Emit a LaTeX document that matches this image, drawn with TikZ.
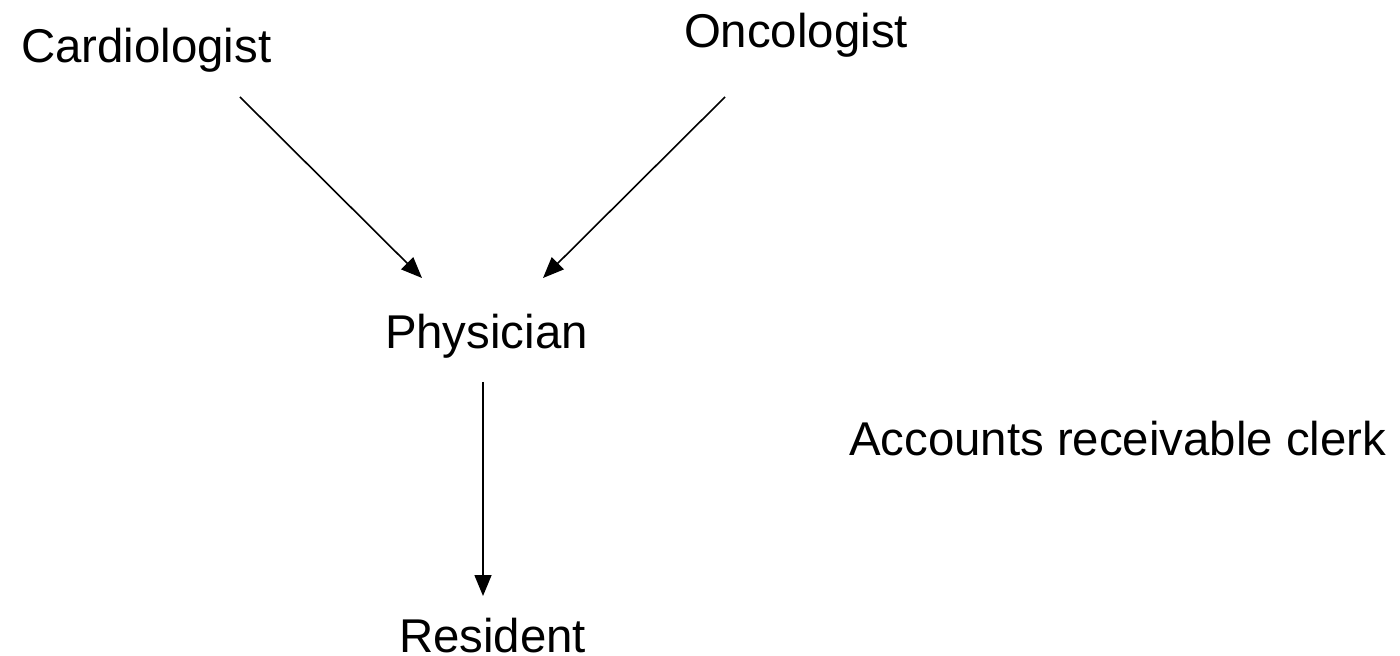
\documentclass[tikz,border=0pt]{standalone}
\usepackage{fontspec}
\setmainfont{Liberation Sans}
\usetikzlibrary{arrows.meta}
\begin{document}
\begin{tikzpicture}[x=0.5pt,y=-0.5pt,
  lbl/.style={anchor=base west,inner sep=0pt,outer sep=0pt,font=\fontsize{23.7pt}{28pt}\selectfont},
  conn/.style={line width=0.8pt,-{Triangle[length=10.5pt,width=8.5pt]}}]
\useasboundingbox (0,0) rectangle (1400,656);
\node[lbl] (card) at (21,63) {Cardiologist};
\node[lbl] (onc) at (684,48) {Oncologist};
\node[lbl] (phys) at (385,349) {Physician};
\node[lbl] (res) at (399,652) {Resident};
\node[lbl] (arc) at (849,456) {Accounts receivable clerk};
\coordinate (cardout) at (240,97);
\coordinate (oncout) at (725,97);
\coordinate (physinL) at (422,278);
\coordinate (physinR) at (543,278);
\coordinate (physout) at (483,382);
\coordinate (resin) at (483,596);
\draw[conn] (cardout) -- (physinL);
\draw[conn] (oncout) -- (physinR);
\draw[conn] (physout) -- (resin);
\end{tikzpicture}
\end{document}
